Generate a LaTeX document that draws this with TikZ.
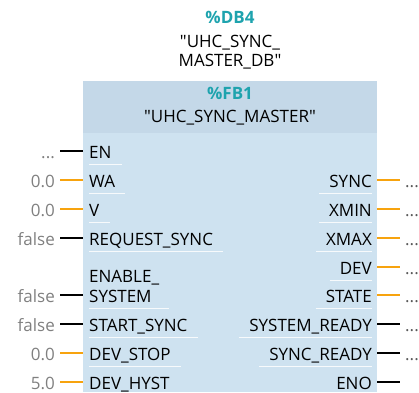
\documentclass[tikz,border=0pt]{standalone}
\usepackage{fontspec}
\newfontfamily\tiafont{Open Sans}
\usetikzlibrary{positioning}

\definecolor{fbhead}{RGB}{196,216,232}
\definecolor{fbbody}{RGB}{206,226,240}
\definecolor{tiateal}{RGB}{30,163,174}
\definecolor{realpin}{RGB}{247,163,14}
\definecolor{constgray}{RGB}{128,128,128}

\newcommand{\pindots}{...}

\tikzset{
  pintext/.style={inner sep=0pt, text=black, font=\tiafont\fontsize{17}{19}\selectfont},
  blockid/.style={pintext, text=tiateal, font=\tiafont\fontsize{17}{19}\selectfont\bfseries},
  pinvalue/.style={pintext, text=constgray, anchor=base east},
  pinwire/.style={line width=2.6pt},
  pinsep/.style={white, line width=0.8pt, opacity=0.85},
}

\begin{document}
\begin{tikzpicture}[x=1pt, y=-1pt]
    \useasboundingbox (0,0) rectangle (419,392);
    %
    % instance data block above the box
    \node[blockid] (dbnum) at (230,17) {\%DB4};
    \node[pintext, align=center] (dbname) at (230,52) {"UHC\_SYNC\_\\MASTER\_DB"};
    %
    % function block body and header
    \fill[fbbody] (83,81) rectangle (377,392);
    \fill[fbhead] (83,81) rectangle (377,133);
    \node[blockid] (fbnum) at (230,93) {\%FB1};
    \node[pintext] (fbname) at (230,118) {"UHC\_SYNC\_MASTER"};
    %
    % inputs
    \foreach \y/\pin/\val/\col [count=\i] in {
        151/EN/\pindots/black, 180/WA/0.0/realpin, 209/V/0.0/realpin,
        238/REQUEST\_SYNC/false/black, 295/SYSTEM/false/black,
        324/START\_SYNC/false/black, 353/DEV\_STOP/0.0/realpin,
        382/DEV\_HYST/5.0/realpin} {
        \coordinate (inend\i) at (60,\y);
        \coordinate (inpin\i) at (83,\y);
        \node[pinvalue] (inval\i) at (55,\y+7) {\val};
        \node[pintext, anchor=base west] (inlbl\i) at (89,\y+7) {\pin};
        \draw[pinwire, \col] (inend\i) -- (inpin\i);
        \ifnum\i=5\else
            \draw[pinsep] ([yshift=-6pt]inlbl\i.base west) -- ([yshift=-6pt, xshift=10pt]inlbl\i.base east);
        \fi
    }
    \node[pintext, anchor=base west] (enable) at ([yshift=20pt]inlbl5.base west) {ENABLE\_};
    \draw[pinsep] ([yshift=-6pt]inlbl5.base west) -- ([yshift=-6pt, xshift=10pt]inlbl5.base west -| enable.base east);
    %
    % outputs
    \foreach \y/\pin/\col/\tail [count=\i] in {
        180/SYNC/realpin/\pindots, 209/XMIN/realpin/\pindots,
        238/XMAX/realpin/\pindots, 267/DEV/realpin/\pindots,
        295/STATE/realpin/\pindots, 324/SYSTEM\_READY/black/\pindots,
        353/SYNC\_READY/black/\pindots, 382/ENO/black/} {
        \coordinate (outpin\i) at (377,\y);
        \coordinate (outend\i) at (400,\y);
        \node[pintext, anchor=base east] (outlbl\i) at (372,\y+7) {\pin};
        \node[pintext, text=constgray!70!black, anchor=base west] (outval\i) at (405,\y+7) {\tail};
        \draw[pinwire, \col] (outpin\i) -- (outend\i);
        \draw[pinsep] ([yshift=-6pt, xshift=-10pt]outlbl\i.base west) -- ([yshift=-6pt]outlbl\i.base east);
    }
\end{tikzpicture}
\end{document}
